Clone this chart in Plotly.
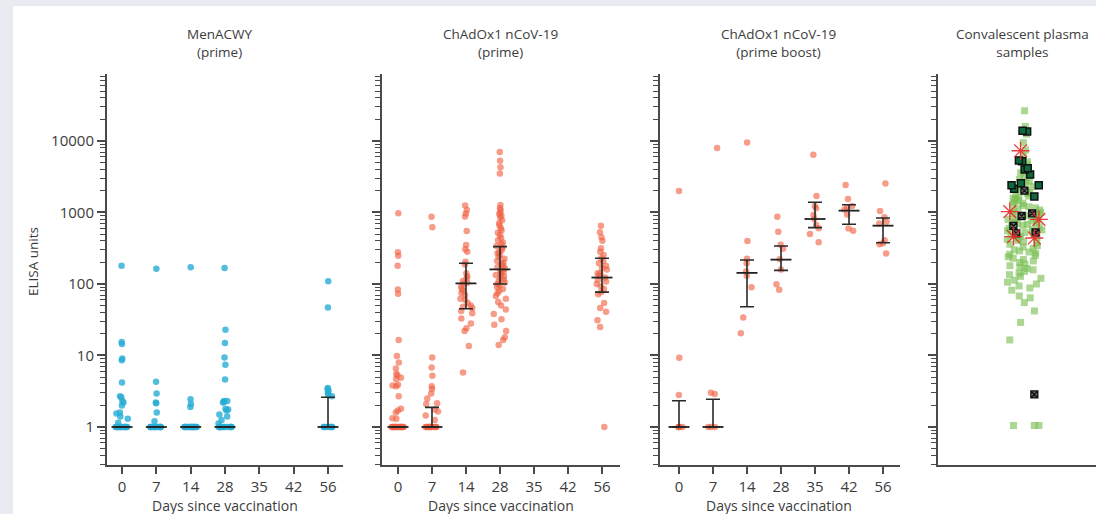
import numpy as np
import plotly.graph_objects as go

# ---------------- data ----------------
days = ["0", "7", "14", "28", "35", "42", "56"]

# MenACWY (prime)
men_day0 = [180, 15.5, 14.5, 9.1, 8.6, 4.2, 2.7, 2.6, 2.3, 2.2, 2.0, 1.6, 1.55, 1.4, 1.3, 1.15,
            1, 1, 1, 1, 1, 1, 1, 1, 1, 1, 1, 1, 1, 1]
men_day7 = [164, 4.3, 2.95, 2.2, 2.15, 1.6, 1.2, 1, 1, 1, 1, 1, 1, 1, 1, 1, 1, 1, 1, 1, 1]
men_day14 = [171, 2.45, 2.1, 1.9, 1, 1, 1, 1, 1, 1, 1, 1, 1, 1, 1, 1, 1, 1, 1]
men_day28 = [167, 23, 15, 9.4, 7.4, 4.6, 2.3, 2.3, 2.25, 2.2, 1.8, 1.75, 1.7, 1.5, 1.4, 1.25, 1.12,
             1, 1, 1, 1, 1, 1, 1, 1, 1, 1, 1, 1, 1, 1]
men_day56 = [109, 47, 3.5, 3.4, 3.2, 3.0, 2.8, 2.7, 1, 1, 1, 1, 1, 1, 1]
men_stat_days = ["0", "7", "14", "28", "56"]
men_med = [1, 1, 1, 1, 1]
men_q1 = [1, 1, 1, 1, 1]
men_q3 = [1, 1, 1, 1, 2.6]

# ChAdOx1 nCoV-19 (prime)
pr_day0 = [975, 278, 249, 180, 84, 73, 16.5, 9.8, 8.0, 6.6, 5.5, 5.3, 4.9, 4.7, 3.9, 3.8, 3.7, 2.7,
           1.8, 1.7, 1.6, 1.32, 1.3, 1, 1, 1, 1, 1, 1, 1, 1, 1, 1, 1, 1, 1, 1, 1, 1]
pr_day7 = [875, 620, 9.4, 6.8, 5.2, 3.7, 3.4, 2.95, 2.5, 2.15, 2.1, 1.75, 1.65, 1.45, 1.25,
           1, 1, 1, 1, 1, 1, 1, 1, 1, 1, 1, 1]
pr_day14 = [1250, 1080, 970, 880, 550, 350, 305, 283, 205, 188, 141, 127, 120, 110, 104, 101, 92,
            85, 81, 75, 70, 62, 60, 54, 50, 48, 46, 42, 39, 33, 28, 24, 22, 13.6, 5.8]
pr_day28 = [7000, 5300, 4300, 3500, 1270, 1150, 1080, 1000, 950, 900, 850, 780, 710, 660, 600, 560,
            520, 480, 440, 410, 380, 360, 340, 320, 300, 285, 270, 255, 240, 225, 210, 200, 190,
            180, 172, 165, 158, 152, 146, 140, 134, 128, 122, 116, 110, 105, 100, 96, 90, 85, 80,
            74, 68, 62, 56, 50, 44, 38, 32, 27, 22, 18, 16.5, 14]
pr_day56 = [654, 528, 450, 403, 315, 283, 255, 229, 210, 195, 180, 166, 160, 141, 140, 130, 123,
            115, 108, 100, 92, 85, 77, 72, 54, 46, 41, 31, 25, 1]
pr_stat_days = ["0", "7", "14", "28", "56"]
pr_med = [1, 1, 102, 160, 123]
pr_q1 = [1, 1, 45, 100, 77]
pr_q3 = [1, 1.88, 195, 333, 229]

# ChAdOx1 nCoV-19 (prime boost)
pb_day0 = [2000, 9.3, 2.8, 1, 1, 1, 1]
pb_day7 = [8000, 3.0, 2.9, 1, 1, 1]
pb_day14 = [9500, 400, 225, 195, 150, 130, 90, 34, 20.5]
pb_day28 = [875, 540, 355, 312, 221, 160, 99, 83]
pb_day35 = [6400, 1700, 1230, 1150, 920, 810, 670, 600, 500, 385]
pb_day42 = [2430, 1550, 1230, 1180, 1100, 940, 595, 555]
pb_day56 = [2550, 1050, 860, 745, 700, 410, 370, 360, 268]
pb_stat_days = ["0", "7", "14", "28", "35", "42", "56"]
pb_med = [1, 1, 143, 219, 811, 1061, 654]
pb_q1 = [1, 1, 48, 155, 614, 684, 378]
pb_q3 = [2.33, 2.44, 217, 340, 1388, 1285, 838]

# Convalescent plasma samples
conv_light = [26500, 16000, 12500, 9500, 7500, 6200, 5100, 4600, 4200, 3900, 3600, 3300, 3100,
              2900, 2750, 2600, 2450, 2300, 2200, 2100, 2000, 1900, 1850, 1780, 1700, 1650, 1580,
              1520, 1460, 1400, 1350, 1300, 1250, 1200, 1160, 1120, 1080, 1040, 1000, 970, 940,
              910, 880, 850, 820, 800, 780, 760, 740, 720, 700, 680, 660, 640, 620, 600, 585, 570,
              555, 540, 525, 510, 495, 480, 465, 450, 435, 420, 405, 390, 375, 360, 345, 330, 315,
              300, 290, 280, 270, 260, 250, 240, 230, 220, 210, 200, 190, 180, 172, 165, 158, 150,
              142, 135, 128, 120, 113, 106, 100, 94, 88, 82, 68, 64, 55, 42, 29, 16.5,
              1.05, 1.05, 1.05]
conv_dark = [13600, 13900, 5200, 5350, 3980, 4150, 3400, 2410, 2410, 2560, 2150, 1680]
conv_grey = [2020, 975, 893, 648, 525, 510, 2.85]
conv_red = [7300, 1030, 800, 460, 440]

# ---------------- layout helpers ----------------
W, H = 1096, 514
AX = "#4a4a4a"
TXT = "#3c3c3c"
FONT = "Open Sans"


def fx(px):
    return px / W


def fy(py):
    return 1 - py / H


ydom = [fy(465), fy(74)]
yrange = [np.log10(0.294), 4.937]
major_y = [1, 10, 100, 1000, 10000]
minor_y = [m * 10.0 ** e for e in range(-1, 5) for m in range(2, 10)]

fig = go.Figure()


def strip(groups, xa, ya, color, size, symbol="circle", line_color=None, line_width=0,
          width=0.38, cats=days):
    xs, ys = [], []
    for d, vals in groups:
        xs += [cats.index(d) if isinstance(d, str) else d] * len(vals)
        ys += list(vals)
    return go.Box(
        x=xs, y=ys, xaxis=xa, yaxis=ya, boxpoints="all", jitter=1, pointpos=0, width=width,
        fillcolor="rgba(0,0,0,0)", line=dict(width=0, color="rgba(0,0,0,0)"), whiskerwidth=0,
        marker=dict(color=color, size=size, symbol=symbol,
                    line=dict(color=line_color or color, width=line_width)),
        showlegend=False, hoveron="points",
    )


def bars(stat_days, med, q1, q3, xa, ya):
    med = np.array(med, float)
    return go.Scatter(
        x=[days.index(d) for d in stat_days], y=med, xaxis=xa, yaxis=ya, mode="markers",
        marker=dict(symbol="line-ew", size=15, color="#222", line=dict(width=1.8, color="#222")),
        error_y=dict(type="data", symmetric=False, array=np.array(q3) - med,
                     arrayminus=med - np.array(q1), width=7, thickness=1.6, color="#2a2a2a"),
        showlegend=False, hoverinfo="skip",
    )


CYAN = "rgba(40,172,212,0.80)"
RED = "rgba(240,95,65,0.62)"

fig.add_trace(strip([("0", men_day0), ("7", men_day7), ("14", men_day14), ("28", men_day28),
                     ("56", men_day56)], "x", "y", CYAN, 6.5))
fig.add_trace(bars(men_stat_days, men_med, men_q1, men_q3, "x", "y"))

fig.add_trace(strip([("0", pr_day0), ("7", pr_day7), ("14", pr_day14), ("28", pr_day28),
                     ("56", pr_day56)], "x2", "y2", RED, 6.5))
fig.add_trace(bars(pr_stat_days, pr_med, pr_q1, pr_q3, "x2", "y2"))

fig.add_trace(strip([("0", pb_day0), ("7", pb_day7), ("14", pb_day14), ("28", pb_day28),
                     ("35", pb_day35), ("42", pb_day42), ("56", pb_day56)], "x3", "y3", RED, 6.5))
fig.add_trace(bars(pb_stat_days, pb_med, pb_q1, pb_q3, "x3", "y3"))

fig.add_trace(strip([(0, conv_light)], "x4", "y4", "rgba(120,190,80,0.62)", 7, symbol="square",
                    width=0.36))
fig.add_trace(strip([(0, conv_dark)], "x4", "y4", "#0b6b3c", 7, symbol="square",
                    line_color="#111", line_width=1.5, width=0.36))
fig.add_trace(strip([(0, conv_grey)], "x4", "y4", "#6a6a6a", 7, symbol="square-x",
                    line_color="#111", line_width=1.3, width=0.36))
fig.add_trace(strip([(0, conv_red)], "x4", "y4", "rgba(235,40,40,0.9)", 15,
                    symbol="asterisk-open", line_color="rgba(235,40,40,0.9)", line_width=1.3,
                    width=0.36))

x_domains = [[fx(107), fx(343)], [fx(382), fx(620)], [fx(660), fx(900)], [fx(938), 1.0]]
x_ranges = [[-0.437, 6.437], [-0.47, 6.53], [-0.559, 6.5], [-0.87, 0.71]]

layout = dict(
    width=W, height=H, margin=dict(l=0, r=0, t=0, b=0),
    paper_bgcolor="white", plot_bgcolor="white", boxmode="overlay",
    font=dict(family=FONT, color=TXT), showlegend=False,
)
for i in range(4):
    sfx = "" if i == 0 else str(i + 1)
    xa = dict(domain=x_domains[i], range=x_ranges[i], anchor="y" + sfx, showline=True,
              linecolor=AX, linewidth=2, showgrid=False, zeroline=False, fixedrange=True)
    if i < 3:
        xa.update(tickmode="array", tickvals=list(range(len(days))), ticktext=days,
                  ticks="outside", ticklen=7, tickwidth=1.5, tickcolor=AX,
                  tickfont=dict(size=15, color=TXT, family=FONT))
    else:
        xa.update(showticklabels=False, ticks="")
    ya = dict(domain=ydom, type="log", range=yrange, anchor="x" + sfx, showline=True,
              linecolor=AX, linewidth=2, showgrid=False, zeroline=False,
              tickmode="array", tickvals=major_y, ticktext=[str(v) for v in major_y],
              ticks="outside", ticklen=8, tickwidth=1.5, tickcolor=AX,
              minor=dict(tickmode="array", tickvals=minor_y, ticks="outside", ticklen=5,
                         tickwidth=1, tickcolor=AX),
              showticklabels=(i == 0), tickfont=dict(size=15, color=TXT, family=FONT),
              fixedrange=True)
    layout["xaxis" + sfx] = xa
    layout["yaxis" + sfx] = ya

annotations = []
titles = [("MenACWY<br>(prime)", 220), ("ChAdOx1 nCoV-19<br>(prime)", 500),
          ("ChAdOx1 nCoV-19<br>(prime boost)", 778), ("Convalescent plasma<br>samples", 1022)]
for t, cx in titles:
    annotations.append(dict(text=t, x=fx(cx), y=fy(43), xref="paper", yref="paper",
                            xanchor="center", yanchor="middle", showarrow=False,
                            font=dict(size=13.5, color=TXT, family=FONT)))
for cx in [225, 501, 779]:
    annotations.append(dict(text="Days since vaccination", x=fx(cx), y=fy(505), xref="paper",
                            yref="paper", xanchor="center", yanchor="middle", showarrow=False,
                            font=dict(size=14, color=TXT, family=FONT)))
annotations.append(dict(text="ELISA units", x=fx(33), y=fy(262), xref="paper", yref="paper",
                        xanchor="center", yanchor="middle", textangle=-90, showarrow=False,
                        font=dict(size=13.5, color=TXT, family=FONT)))
layout["annotations"] = annotations

layout["shapes"] = [
    dict(type="rect", xref="paper", yref="paper", x0=0, x1=1, y0=fy(6), y1=1,
         fillcolor="#e8ecf1", line=dict(width=0), layer="below"),
    dict(type="rect", xref="paper", yref="paper", x0=0, x1=fx(13), y0=0, y1=1,
         fillcolor="#e8ecf1", line=dict(width=0), layer="below"),
]

fig.update_layout(**layout)
fig.write_html("out.html", config={"displayModeBar": False},
               post_script="document.body.style.margin='0';document.body.style.overflow='hidden';")
